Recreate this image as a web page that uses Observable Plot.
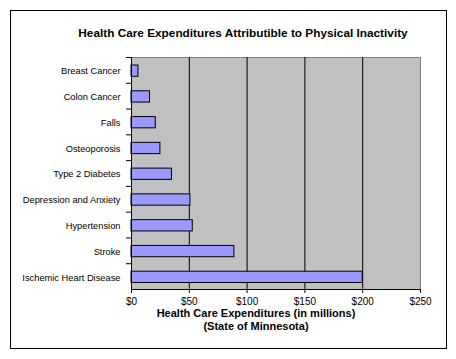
<!DOCTYPE html>
<html>
<head>
<meta charset="utf-8">
<script src="https://cdn.jsdelivr.net/npm/d3@7"></script>
<script src="https://cdn.jsdelivr.net/npm/@observablehq/plot@0.6"></script>
<style>
  html, body { margin: 0; padding: 0; background: #fff; }
  #wrap { position: relative; width: 456px; height: 359px; }
  #border { position: absolute; left: 10px; top: 10px; width: 435px; height: 337px; border: 1px solid #000; pointer-events: none; }
  svg { font-family: "Liberation Sans", Arial, sans-serif; }
</style>
</head>
<body>
<div id="wrap"><div id="border"></div></div>
<script>
const categories = ["Breast Cancer", "Colon Cancer", "Falls", "Osteoporosis", "Type 2 Diabetes", "Depression and Anxiety", "Hypertension", "Stroke", "Ischemic Heart Disease"];
const values = [6, 16, 21, 25, 35, 51, 53, 89, 200];
const xTicks = [0, 50, 100, 150, 200, 250];
const gridTicks = [50, 100, 150, 200];
const title = "Health Care Expenditures Attributible to Physical Inactivity";
const xLabel = "Health Care Expenditures (in millions)\n(State of Minnesota)";

const data = categories.map((c, i) => ({category: c, value: values[i]}));
const band = (289 - 57) / categories.length;

const chart = Plot.plot({
  width: 456,
  height: 359,
  marginLeft: 131,
  marginRight: 36,
  marginTop: 57,
  marginBottom: 70,
  style: {fontFamily: "'Liberation Sans', Arial, sans-serif", fontSize: "10px", background: "transparent"},
  x: {domain: [0, 250], ticks: xTicks},
  y: {domain: categories, padding: 0, round: false},
  marks: [
    Plot.frame({fill: "#C0C0C0", stroke: "#808080"}),
    Plot.ruleX(gridTicks, {stroke: "#000", strokeWidth: 1}),
    Plot.barX(data, {x: "value", y: "category", fill: "#9999FF", stroke: "#000", strokeWidth: 1, insetTop: 8, insetBottom: 6.5}),
    Plot.ruleX([0], {stroke: "#000"}),
    Plot.ruleY([categories[categories.length - 1]], {stroke: "#000", dy: band / 2}),
    Plot.axisY({tickSize: 5, text: null, dy: -band / 2, stroke: "#000", strokeOpacity: 1, label: null}),
    Plot.axisY({tickSize: 0, tickPadding: 11, label: null, fill: "#000", fontSize: 9.3, dy: 1}),
    Plot.axisX({ticks: xTicks, tickSize: 4, tickPadding: 4, tickFormat: d => "$" + d, label: null, stroke: "#000", strokeOpacity: 1, fill: "#000", fontSize: 10}),
    Plot.text([title], {frameAnchor: "top", lineAnchor: "bottom", dy: -21, dx: -33, fontWeight: "bold", fontSize: 11.8, fill: "#000"}),
    Plot.text([xLabel], {frameAnchor: "bottom", lineAnchor: "top", dy: 19, dx: -20, fontWeight: "bold", fontSize: 11, lineHeight: 1.15, fill: "#000"})
  ]
});
document.getElementById("wrap").prepend(chart);
</script>
</body>
</html>
